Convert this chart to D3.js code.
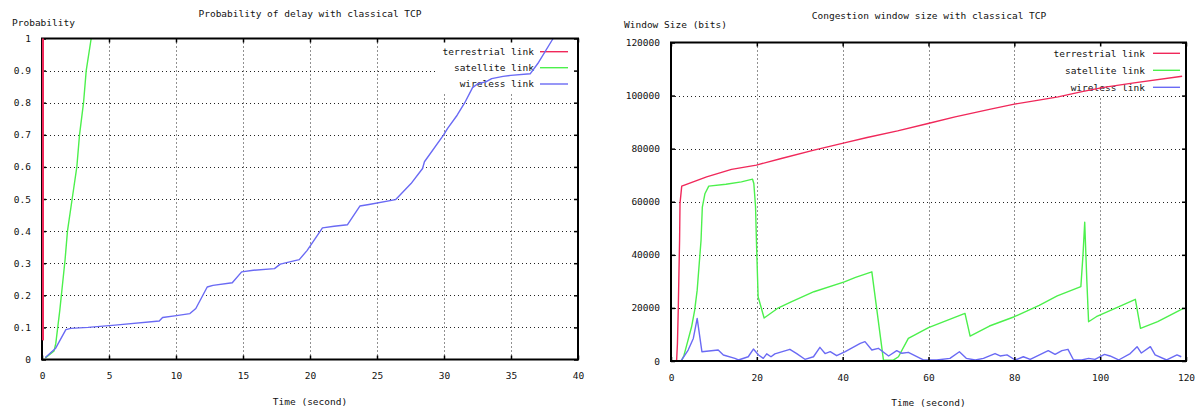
<!DOCTYPE html>
<html><head><meta charset="utf-8">
<script src="https://cdn.jsdelivr.net/npm/d3@7"></script>
<style>
body{margin:0;background:#fff}
svg{display:block}
text{font-family:"DejaVu Sans Mono","Liberation Mono",monospace;font-size:9.5px;fill:#111}
</style>
</head><body>
<svg id="c" width="1197" height="408"></svg>
<script>
// ---------- DATA ----------
const seriesNames = ["terrestrial link", "satellite link", "wireless link"];
const seriesColors = ["#f0285a", "#4cf04c", "#6a6af4"];

// Left chart: Probability of delay with classical TCP
const probXTicks = [0, 5, 10, 15, 20, 25, 30, 35, 40];
const probYTicks = [0, 0.1, 0.2, 0.3, 0.4, 0.5, 0.6, 0.7, 0.8, 0.9, 1];
const probYTickLabels = ["0", "0.1", "0.2", "0.3", "0.4", "0.5", "0.6", "0.7", "0.8", "0.9", "1"];
const delayTerrestrial = [[0.07, 0.06], [0.07, 1.0]];
const delaySatellite = [[0.25,0.005],[0.9,0.027],[1.03,0.05],[1.33,0.154],[1.72,0.31],[1.9,0.4],[2.25,0.5],[2.6,0.6],[2.8,0.7],[3.1,0.8],[3.3,0.9],[3.67,1.0]];
const delayWireless = [[0.25,0.006],[1.0,0.034],[1.78,0.093],[2.15,0.097],[3.44,0.1],[5.45,0.107],[8.75,0.12],[9.0,0.131],[9.9,0.136],[11.04,0.143],[11.48,0.159],[12.33,0.226],[12.76,0.231],[14.2,0.239],[14.9,0.273],[15.77,0.278],[17.35,0.283],[17.78,0.297],[19.2,0.311],[19.79,0.34],[20.93,0.41],[21.8,0.415],[22.8,0.42],[23.72,0.478],[24.4,0.483],[26.38,0.498],[27.54,0.548],[28.4,0.595],[28.54,0.616],[29.96,0.699],[30.27,0.72],[30.98,0.761],[31.55,0.80],[32.13,0.847],[32.55,0.86],[33.12,0.865],[33.56,0.875],[34.41,0.882],[34.99,0.885],[36.43,0.89],[37.0,0.922],[38.14,1.0]];

// Right chart: Congestion window size with classical TCP
const cwndXTicks = [0, 20, 40, 60, 80, 100, 120];
const cwndYTicks = [0, 20000, 40000, 60000, 80000, 100000, 120000];
const cwndYTickLabels = ["0", "20000", "40000", "60000", "80000", "100000", "120000"];
const cwndTerrestrial = [[1.3,0],[1.5,6600],[1.7,20000],[1.85,33000],[2.0,45500],[2.1,59400],[2.5,65900],[8.3,69400],[14.1,72200],[19.9,73800],[25.7,76300],[33.3,79450],[40.4,82200],[45.7,84200],[52.8,86700],[59.9,89500],[66.2,92000],[74.2,94800],[80,96770],[85.7,98300],[90.2,99500],[95.5,101400],[100.8,103100],[107.9,104800],[119.1,107300]];
const cwndSatellite = [[2.4,0],[3.0,2000],[3.66,6000],[4.8,12900],[5.5,19000],[6.1,26700],[7.0,45500],[7.3,58000],[7.9,63000],[8.8,65900],[12.8,66600],[16.4,67500],[19.0,68500],[19.3,66900],[19.7,58100],[19.9,45500],[20.3,24200],[21.7,16200],[24.8,19800],[28,22300],[33.3,26100],[40.4,29800],[43,31500],[46.8,33600],[49.5,400],[51.8,300],[53,1600],[55.3,8540],[60,12600],[68.5,17950],[69.7,9400],[74.2,13180],[80,16680],[85.8,21000],[90,24500],[95.5,28000],[96.0,40000],[96.4,52300],[96.9,30000],[97.3,14800],[99.1,16680],[104.4,20450],[108.2,23240],[109.4,12300],[113.4,14800],[119.4,19800]];
const cwndWireless = [[2.33,0],[4.0,4140],[5.2,8500],[6.1,16070],[7.2,3500],[11.0,4140],[12.2,2260],[14.9,1000],[15.7,380],[18.0,1600],[19.2,4500],[20.4,2260],[21.5,1000],[22.3,2700],[23.3,1600],[24.2,2700],[27.7,4400],[29.3,2800],[31.2,640],[33.2,1600],[34.7,5150],[35.9,2800],[37.1,3500],[38.6,2000],[40.6,3500],[44.1,6660],[45.2,7300],[46.8,4140],[48.3,4780],[50.7,1880],[52.6,3880],[53.8,2900],[55.3,3270],[58.8,380],[61.9,380],[65.0,1000],[67.2,3500],[68.8,1000],[70.9,380],[72.8,1000],[75.5,2800],[76.7,1900],[78.3,2300],[80.2,380],[82.1,1600],[83.7,600],[87.9,3900],[89.5,2500],[91.1,3900],[92.5,4400],[93.8,380],[95.7,380],[97.3,1000],[98.8,600],[101,2500],[102.3,1900],[104.3,380],[107,2800],[108.6,5400],[109.6,3000],[111.7,5400],[112.8,2300],[115.5,380],[117.9,2300],[118.9,1600]];

// ---------- DRAW ----------
const svg = d3.select("#c");

function panel(cfg) {
  const g = svg.append("g");
  const x = d3.scaleLinear().domain(cfg.xDomain).range([cfg.left, cfg.right]);
  const y = d3.scaleLinear().domain(cfg.yDomain).range([cfg.bottom, cfg.top]);

  // grid (dotted)
  const grid = g.append("g").attr("stroke", "#222").attr("stroke-width", 1).attr("stroke-dasharray", "1 3");
  cfg.xTicks.slice(1, -1).forEach(v => {
    const px = Math.round(x(v)) + 0.5;
    grid.append("line").attr("x1", px).attr("x2", px).attr("y1", cfg.top).attr("y2", cfg.bottom);
  });
  cfg.yTicks.slice(1, -1).forEach(v => {
    const py = Math.round(y(v)) + 0.5;
    grid.append("line").attr("x1", cfg.left).attr("x2", cfg.right).attr("y1", py).attr("y2", py);
  });

  // opaque legend box
  g.append("rect").attr("x", cfg.legBox[0]).attr("y", cfg.legBox[1])
    .attr("width", cfg.legBox[2]).attr("height", cfg.legBox[3]).attr("fill", "#fff");
  seriesNames.forEach((n, i) => {
    const ly = cfg.legY[i];
    g.append("text").attr("x", cfg.legTextX).attr("y", ly).attr("dy", "0.35em")
      .attr("text-anchor", "end").text(n);
    g.append("line").attr("x1", cfg.legLine[0]).attr("x2", cfg.legLine[1])
      .attr("y1", ly).attr("y2", ly).attr("stroke", seriesColors[i]).attr("stroke-width", 1.4);
  });

  // data lines
  const clipId = "clip" + cfg.id;
  svg.append("clipPath").attr("id", clipId).append("rect")
    .attr("x", cfg.left - 2).attr("y", cfg.top).attr("width", cfg.right - cfg.left + 2).attr("height", cfg.bottom - cfg.top);
  const line = d3.line().x(d => x(d[0])).y(d => y(d[1]));
  cfg.series.forEach((s, i) => {
    g.append("path").datum(s).attr("d", line).attr("fill", "none")
      .attr("stroke", seriesColors[i]).attr("stroke-width", i === 0 && cfg.id === "L" ? 2 : 1.4)
      .attr("stroke-linejoin", "round").attr("clip-path", `url(#${clipId})`);
  });

  // axes with inward ticks (all four sides)
  const fmtY = v => cfg.yLabels[cfg.yTicks.indexOf(v)];
  const axB = g.append("g").attr("transform", `translate(0,${cfg.bottom})`)
    .call(d3.axisBottom(x).tickValues(cfg.xTicks).tickSize(-4).tickPadding(13).tickFormat(d3.format("d")));
  const axT = g.append("g").attr("transform", `translate(0,${cfg.top})`)
    .call(d3.axisTop(x).tickValues(cfg.xTicks).tickSize(-4).tickFormat(""));
  const axL = g.append("g").attr("transform", `translate(${cfg.left},0)`)
    .call(d3.axisLeft(y).tickValues(cfg.yTicks).tickSize(-4).tickPadding(11).tickFormat(fmtY));
  const axR = g.append("g").attr("transform", `translate(${cfg.right},0)`)
    .call(d3.axisRight(y).tickValues(cfg.yTicks).tickSize(-4).tickFormat(""));
  [axB, axT, axL, axR].forEach(a => {
    a.select(".domain").remove();
    a.selectAll(".tick line").attr("stroke", "#000").attr("stroke-width", 1.5);
    a.selectAll("text").attr("font-family", null).attr("font-size", null).attr("fill", "#111");
  });

  // border
  g.append("rect").attr("x", cfg.left).attr("y", cfg.top)
    .attr("width", cfg.right - cfg.left).attr("height", cfg.bottom - cfg.top)
    .attr("fill", "none").attr("stroke", "#000").attr("stroke-width", 2);
  // terrestrial line on top of left border in left chart
  if (cfg.id === "L") {
    g.append("path").datum(cfg.series[0]).attr("d", line).attr("fill", "none")
      .attr("stroke", seriesColors[0]).attr("stroke-width", 2);
  }

  // titles
  g.append("text").attr("x", cfg.titleX).attr("y", cfg.titleY).attr("dy", "0.35em")
    .attr("text-anchor", "middle").text(cfg.title);
  g.append("text").attr("x", cfg.yLabX).attr("y", cfg.yLabY).attr("dy", "0.35em").text(cfg.yLabel);
  g.append("text").attr("x", (cfg.left + cfg.right) / 2).attr("y", cfg.xLabY).attr("dy", "0.35em")
    .attr("text-anchor", "middle").text(cfg.xLabel);
}

panel({
  id: "L", left: 42, right: 578, top: 38.5, bottom: 359.5,
  xDomain: [0, 40], yDomain: [0, 1], xTicks: probXTicks, yTicks: probYTicks, yLabels: probYTickLabels,
  series: [delayTerrestrial, delaySatellite, delayWireless],
  legBox: [437, 40, 139, 52], legTextX: 534, legLine: [540, 568], legY: [51.7, 67.7, 84],
  title: "Probability of delay with classical TCP", titleX: 310, titleY: 14,
  yLabel: "Probability", yLabX: 12, yLabY: 22.7,
  xLabel: "Time (second)", xLabY: 401.7
});

panel({
  id: "R", left: 671, right: 1186, top: 42.5, bottom: 361,
  xDomain: [0, 120], yDomain: [0, 120000], xTicks: cwndXTicks, yTicks: cwndYTicks, yLabels: cwndYTickLabels,
  series: [cwndTerrestrial, cwndSatellite, cwndWireless],
  legBox: [1047, 44, 137, 52], legTextX: 1145, legLine: [1153, 1180], legY: [53.3, 70.3, 87.3],
  title: "Congestion window size with classical TCP", titleX: 929, titleY: 16,
  yLabel: "Window Size (bits)", yLabX: 624, yLabY: 24.3,
  xLabel: "Time (second)", xLabY: 402.7
});
</script>
</body></html>
